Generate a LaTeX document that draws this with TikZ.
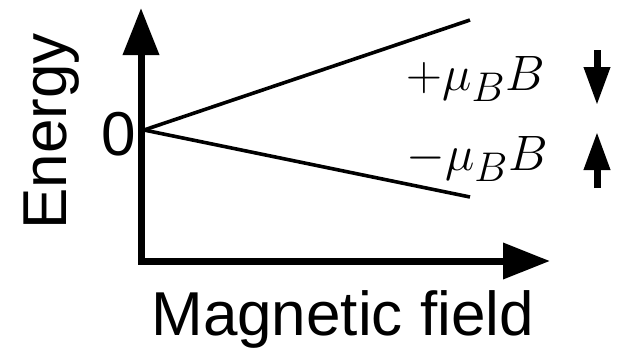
\documentclass[tikz,border=0pt]{standalone}
\usepackage{fontspec}
\setmainfont{Liberation Sans}
\usetikzlibrary{arrows.meta}
\tikzset{
  axis/.style={line width=3.5pt, line join=miter, {Triangle[length=23.5pt,width=17.5pt]}-{Triangle[length=23.5pt,width=17.5pt]}},
  level/.style={line width=1.8pt},
  spin/.style={line width=3.5pt, -{Triangle[length=19pt,width=12.5pt]}},
  lbl/.style={inner sep=0pt, font=\fontsize{31}{36}\selectfont},
  mlbl/.style={inner sep=0pt, font=\fontsize{30}{34}\selectfont}
}
\begin{document}
\begin{tikzpicture}[x=0.5pt,y=-0.5pt]
\useasboundingbox (0,0) rectangle (623,350);
\coordinate (ytip) at (141,8);
\coordinate (xtip) at (550,261);
\coordinate (zero) at (144,130);
\coordinate (hi) at (470,20);
\coordinate (lo) at (470,197);
\draw[axis] (ytip) |- (xtip);
\draw[level] (zero) -- (hi);
\draw[level] (zero) -- (lo);
\node[lbl, anchor=base east] (zlbl) at (136,155) {0};
\node[lbl, rotate=90, anchor=base west] (elbl) at (67,230) {Energy};
\node[lbl, anchor=base west] (mlbl) at (151,335) {Magnetic field};
\node[mlbl, anchor=base west] (plus) at (406,90) {$+\mu_B B$};
\node[mlbl, anchor=base west] (minus) at (406,170) {$-\mu_B B$};
\coordinate (d1) at (597,50);
\coordinate (d2) at (597,105);
\coordinate (u1) at (597,188);
\coordinate (u2) at (597,132);
\draw[spin] (d1) -- (d2);
\draw[spin] (u1) -- (u2);
\end{tikzpicture}
\end{document}
